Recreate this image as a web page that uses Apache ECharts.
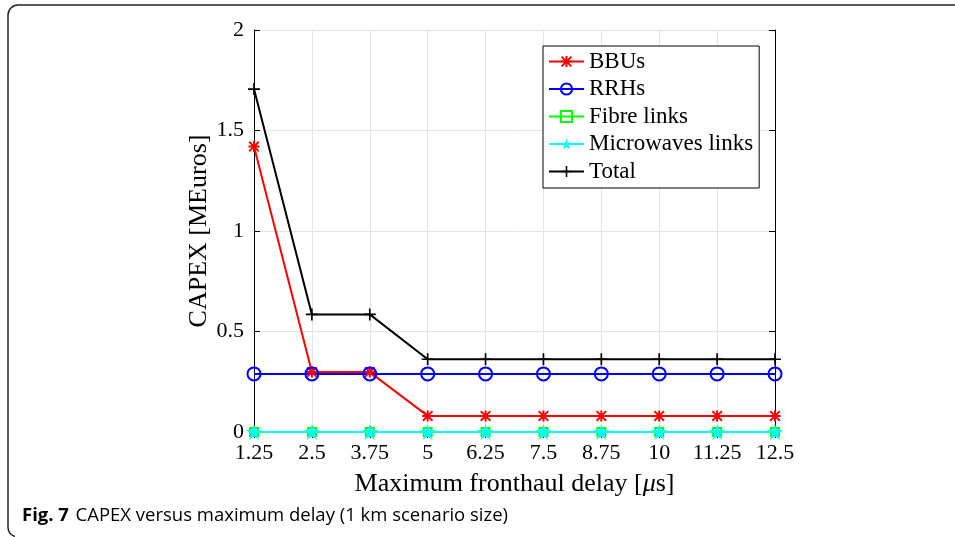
<!DOCTYPE html>
<html><head><meta charset="utf-8">
<script src="https://cdn.jsdelivr.net/npm/echarts@6/dist/echarts.min.js"></script>
<style>html,body{margin:0;padding:0;background:#fff}#c{width:955px;height:537px}</style>
</head><body><div id="c"></div>
<script>
const categories = ['1.25','2.5','3.75','5','6.25','7.5','8.75','10','11.25','12.5'];
const bbus = [1.42,0.298,0.298,0.08,0.08,0.08,0.08,0.08,0.08,0.08];
const rrhs = [0.289,0.289,0.289,0.289,0.289,0.289,0.289,0.289,0.289,0.289];
const fibre = [0,0,0,0,0,0,0,0,0,0];
const microwaves = [0,0,0,0,0,0,0,0,0,0];
const total = [1.706,0.585,0.585,0.362,0.362,0.362,0.362,0.362,0.362,0.362];
const yTicks = [0,0.5,1,1.5,2];
const seriesNames = ['BBUs','RRHs','Fibre links','Microwaves links','Total'];

const serif = 'Liberation Serif';
const asterisk = 'path://M0 8.2H20V11.8H0Z M8.2 0H11.8V20H8.2Z M2.5 0L20 17.5L17.5 20L0 2.5Z M17.5 0L20 2.5L2.5 20L0 17.5Z';
const plus = 'path://M8.6 0H11.4V8.6H20V11.4H11.4V20H8.6V11.4H0V8.6H8.6Z';
const star = 'path://M10 0L12.35 7.24L19.96 7.24L13.8 11.71L16.16 18.94L10 14.47L3.84 18.94L6.2 11.71L0.04 7.24L7.65 7.24Z';

const chart = echarts.init(document.getElementById('c'));
function mk(name, data, color, symbol, size, hollow) {
  return {
    name, type: 'line', data, symbol, symbolSize: size,
    lineStyle: {color, width: 2},
    itemStyle: hollow ? {color: 'rgba(0,0,0,0)', borderColor: color, borderWidth: 2} : {color},
    emphasis: {disabled: true}, animation: false
  };
}
const frame = {stroke: '#222', lineWidth: 1.5, fill: 'none'};
chart.setOption({
  animation: false,
  grid: {left: 254, right: 180, top: 30, bottom: 105},
  legend: {
    data: seriesNames, orient: 'vertical', left: 543, top: 46,
    padding: [4, 6, 5, 5], itemGap: 4.5, itemWidth: 35, itemHeight: 14,
    borderColor: '#000', borderWidth: 1, backgroundColor: '#fff',
    textStyle: {fontFamily: serif, fontSize: 23, lineHeight: 21, color: '#000'},
    selectedMode: false
  },
  xAxis: [{
    type: 'category', data: categories, boundaryGap: false,
    name: '{a|Maximum fronthaul delay [}{i|μ}{a|s]}', nameLocation: 'middle', nameGap: 39,
    nameTextStyle: {rich: {a: {fontFamily: serif, fontSize: 26, color: '#000'}, i: {fontFamily: serif, fontStyle: 'italic', fontSize: 26, color: '#000'}}},
    axisLine: {lineStyle: {color: '#000', width: 1}},
    axisTick: {inside: true, length: 6, lineStyle: {color: '#000'}},
    axisLabel: {interval: 0, fontFamily: serif, fontSize: 22, color: '#000', margin: 10},
    splitLine: {show: true, lineStyle: {color: '#e3e3e3', width: 1}}
  }, {
    type: 'category', data: categories, boundaryGap: false, position: 'top',
    axisLine: {lineStyle: {color: '#000', width: 1}},
    axisTick: {inside: true, length: 6, lineStyle: {color: '#000'}},
    axisLabel: {show: false}, splitLine: {show: false}
  }],
  yAxis: [{
    type: 'value', min: yTicks[0], max: yTicks[yTicks.length-1], interval: 0.5,
    name: 'CAPEX [MEuros]', nameLocation: 'middle', nameGap: 42, nameRotate: 90, nameMoveOverlap: false,
    nameTextStyle: {fontFamily: serif, fontSize: 26, color: '#000'},
    axisLine: {show: true, lineStyle: {color: '#000', width: 1}},
    axisTick: {show: true, inside: true, length: 6, lineStyle: {color: '#000'}},
    axisLabel: {fontFamily: serif, fontSize: 22, color: '#000', margin: 10},
    splitLine: {show: true, lineStyle: {color: '#e3e3e3', width: 1}}
  }, {
    type: 'value', min: yTicks[0], max: yTicks[yTicks.length-1], interval: 0.5, position: 'right',
    axisLine: {show: true, lineStyle: {color: '#000', width: 1}},
    axisTick: {show: true, inside: true, length: 6, lineStyle: {color: '#000'}},
    axisLabel: {show: false}, splitLine: {show: false}
  }],
  series: [
    mk(seriesNames[0], bbus, '#ff0000', asterisk, 11, false),
    mk(seriesNames[1], rrhs, '#0000ff', 'circle', 13, true),
    mk(seriesNames[2], fibre, '#00ff00', 'rect', 8, true),
    mk(seriesNames[3], microwaves, '#00ffff', star, 16, false),
    mk(seriesNames[4], total, '#000000', plus, 12, false)
  ],
  graphic: [
    {type: 'line', shape: {x1: 18, y1: 5, x2: 955, y2: 5}, style: frame, silent: true},
    {type: 'line', shape: {x1: 8, y1: 15, x2: 8, y2: 527}, style: frame, silent: true},
    {type: 'arc', shape: {cx: 18, cy: 15, r: 10, startAngle: Math.PI, endAngle: Math.PI * 1.5}, style: frame, silent: true},
    {type: 'arc', shape: {cx: 18, cy: 527, r: 10, startAngle: Math.PI * 0.6, endAngle: Math.PI}, style: frame, silent: true},
    {type: 'text', left: 22, top: 506, style: {
      text: '{b|Fig. 7}  {r|CAPEX versus maximum delay (1 km scenario size)}',
      rich: {b: {fontFamily: 'Open Sans', fontWeight: 'bold', fontSize: 18.5, fill: '#000'},
             r: {fontFamily: 'Open Sans', fontSize: 18.5, fill: '#000'}}
    }}
  ]
});
</script></body></html>
